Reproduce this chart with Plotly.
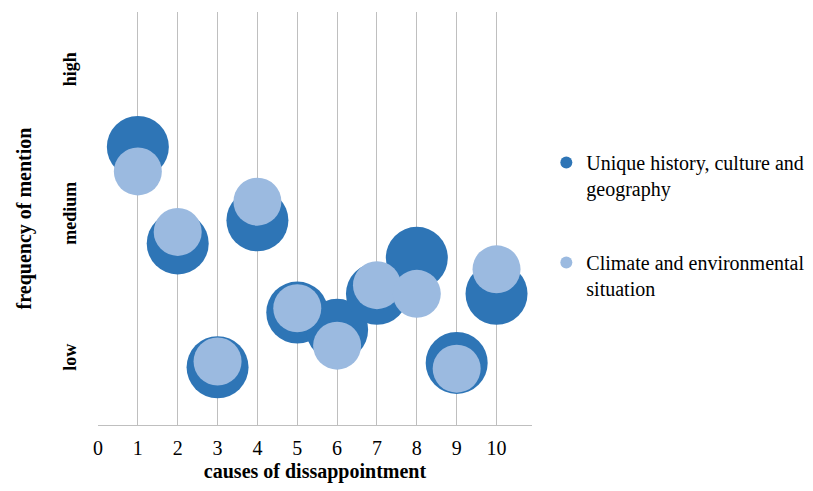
import plotly.graph_objects as go

causes = [1, 2, 3, 4, 5, 6, 7, 8, 9, 10]
unique_history = [2.48, 1.81, 0.95, 1.97, 1.33, 1.21, 1.46, 1.71, 0.98, 1.46]
climate_env = [2.31, 1.89, 0.99, 2.10, 1.36, 1.10, 1.52, 1.46, 0.94, 1.63]
freq_tick_vals = [1, 2, 3]
freq_tick_text = ["low", "medium", "high"]
x_ticks = [0, 1, 2, 3, 4, 5, 6, 7, 8, 9, 10]

DARK = "#2E75B6"
LIGHT = "#9BBAE0"
FONT = "Liberation Serif, Times New Roman, serif"

fig = go.Figure()
fig.add_trace(go.Scatter(
    x=causes, y=unique_history, mode="markers",
    name="Unique history, culture and<br>geography",
    legendgroup="a",
    marker=dict(size=62, color=DARK, opacity=1, line=dict(width=0)),
))
fig.add_trace(go.Scatter(
    x=causes, y=climate_env, mode="markers",
    name="Climate and environmental<br>situation",
    legendgroup="b",
    marker=dict(size=48, color=LIGHT, opacity=1, line=dict(width=0)),
))

# page body has an 8px margin, so the figure is drawn 8px smaller
fig.update_layout(
    width=805, height=483,
    margin=dict(l=90, r=281, t=4, b=66, autoexpand=False),
    paper_bgcolor="white", plot_bgcolor="white",
    font=dict(family=FONT, color="black", size=20),
    showlegend=True,
    legend=dict(
        x=1.033, xanchor="left", y=0.683, yanchor="top",
        font=dict(family=FONT, size=20, color="black"),
        itemsizing="constant", valign="top",
        tracegroupgap=45, bgcolor="rgba(0,0,0,0)",
    ),
    xaxis=dict(
        range=[0, 10.89], tickvals=x_ticks, ticktext=[str(v) for v in x_ticks],
        showgrid=True, gridcolor="#BFBFBF", gridwidth=1,
        showline=True, linecolor="#BFBFBF", linewidth=1,
        zeroline=False, ticks="outside", ticklen=5, tickcolor="rgba(0,0,0,0)",
        automargin=False,
        tickfont=dict(family=FONT, size=20, color="black"),
        title=dict(text="<b>causes of dissappointment</b>", standoff=5,
                   font=dict(family=FONT, size=20, color="black")),
    ),
    yaxis=dict(
        range=[0.549, 3.417], tickvals=freq_tick_vals,
        ticktext=["<b>%s</b>" % t for t in freq_tick_text],
        tickangle=-90, automargin=False,
        showgrid=False, zeroline=False,
        showline=False, ticks="outside", ticklen=14, tickcolor="rgba(0,0,0,0)",
        tickfont=dict(family=FONT, size=18, color="black"),
        title=dict(text="<b>frequency of mention</b>", standoff=22,
                   font=dict(family=FONT, size=20, color="black")),
    ),
)

fig.write_html("out.html")
